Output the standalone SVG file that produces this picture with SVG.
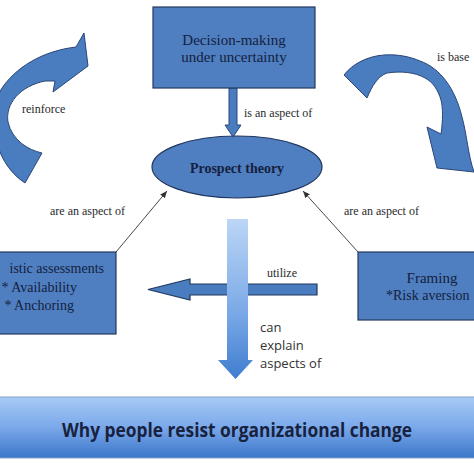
<svg xmlns="http://www.w3.org/2000/svg" width="474" height="474" viewBox="0 0 474 474">
<defs>
<style>
.box{fill:#4f7fc0;stroke:#22375e;stroke-width:1.2}
.blk{fill:#4a7cc0;stroke:#2a4676;stroke-width:1}
.ser{font-family:"Liberation Serif","Times New Roman",serif;fill:#14213f}
.lbl{font-family:"Liberation Serif","Times New Roman",serif;fill:#2a2a2a;font-size:12px}
.thin{stroke:#333;stroke-width:0.9;fill:none;marker-end:url(#ah)}
.sans{font-family:"Open Sans","Noto Sans",sans-serif;fill:#333;font-size:13px}
</style>
<marker id="ah" markerWidth="8" markerHeight="8" refX="7" refY="4" orient="auto" markerUnits="userSpaceOnUse">
<path d="M0,1 L7,4 L0,7 Z" fill="#333"/>
</marker>
<linearGradient id="gv" x1="0" y1="0" x2="0" y2="1">
<stop offset="0" stop-color="#bcd6f6"/>
<stop offset="0.6" stop-color="#78a8e6"/>
<stop offset="1" stop-color="#3f7dd0"/>
</linearGradient>
<linearGradient id="gb" x1="0" y1="0" x2="0" y2="1">
<stop offset="0" stop-color="#a8caf6"/>
<stop offset="0.5" stop-color="#7aa8ea"/>
<stop offset="1" stop-color="#3b76c8"/>
</linearGradient>
</defs>
<rect width="474" height="474" fill="#ffffff"/>

<g id="connectors">
<path class="blk" d="M 25,183 L 42,153 C 28,150 12,140 8,122 C 5,104 20,86 45,81 L 55,81 L 53,92 L 88,66 L 84,33 L 76,47 C 50,50 20,62 2,88 C -12,110 -10,160 25,183 Z"/>
<text class="lbl" x="22" y="113">reinforce</text>
<path class="blk" d="M 344,75 C 352,64 368,56 384,55 C 398,54 411,57 420,61 C 440,68 455,88 462,117 C 467,135 468,155 474,172 L 437,168 L 427,127 L 441,134 C 443,120 443,108 441,100 C 438,90 433,82 425,78 C 415,72 400,71 387,73 C 378,76 372,86 367,98 Z"/>
<text class="lbl" x="437" y="61">is base</text>
<path d="M229,88 L237,88 L237,125 L241,125 L233,137 L225,125 L229,125 Z" fill="#4a7cc0" stroke="#2a4676" stroke-width="1"/>
<text class="lbl" x="244" y="117">is an aspect of</text>
<line class="thin" x1="116" y1="252" x2="167" y2="191"/>
<text class="lbl" x="50" y="215">are an aspect of</text>
<line class="thin" x1="358" y1="252" x2="303" y2="191"/>
<text class="lbl" x="344" y="215">are an aspect of</text>
<path d="M317,284 L190,284 L190,279 L148,289.5 L190,300 L190,295 L317,295 Z" fill="#4a7cc0" stroke="#22375e" stroke-width="1.2"/>
<text class="lbl" x="267" y="277">utilize</text>
<path d="M227,219 L248,219 L248,360 L253,360 L235.5,379 L218,360 L227,360 Z" fill="url(#gv)"/>
<text class="sans" x="260" y="332">can</text>
<text class="sans" x="260" y="350">explain</text>
<text class="sans" x="260" y="368">aspects of</text>
</g>

<g id="decision">
<rect class="box" x="153" y="7" width="162" height="81"/>
<text class="ser" x="234" y="45" font-size="15" text-anchor="middle">Decision-making</text>
<text class="ser" x="234" y="62" font-size="15" text-anchor="middle">under uncertainty</text>
</g>

<g id="prospect">
<ellipse cx="237" cy="167" rx="85" ry="31" fill="#4f7fc0" stroke="#22375e" stroke-width="1.2"/>
<text class="ser" x="237" y="173" font-size="14" font-weight="bold" text-anchor="middle">Prospect theory</text>
</g>

<g id="heuristic">
<rect class="box" x="-42" y="252" width="158" height="82"/>
<text class="ser" x="104" y="273" font-size="14" text-anchor="end">istic assessments</text>
<text class="ser" x="77" y="292" font-size="14" text-anchor="end">* Availability</text>
<text class="ser" x="74" y="310" font-size="14" text-anchor="end">* Anchoring</text>
</g>

<g id="framing">
<rect class="box" x="358" y="252" width="146" height="68"/>
<text class="ser" x="432" y="283" font-size="15" text-anchor="middle">Framing</text>
<text class="ser" x="386" y="300" font-size="14">*Risk aversion</text>
</g>

<g id="banner">
<rect x="-2" y="397" width="478" height="61" fill="url(#gb)" stroke="#8aa4c8" stroke-width="1"/>
<text x="237" y="437" font-family="'Open Sans','Noto Sans',sans-serif" font-weight="bold" font-size="20" fill="#18223e" text-anchor="middle" textLength="350" lengthAdjust="spacingAndGlyphs">Why people resist organizational change</text>
</g>
</svg>
